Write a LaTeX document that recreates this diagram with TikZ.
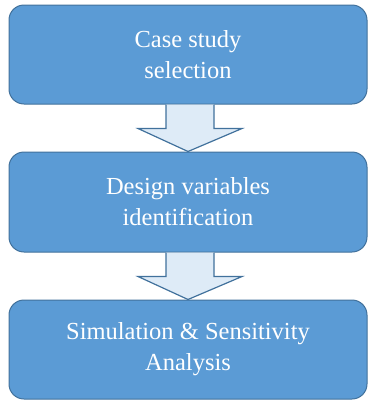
\documentclass[tikz,border=0pt]{standalone}
\usepackage{fontspec}
\setmainfont{Liberation Serif}
\newfontfamily\boxfont{Liberation Serif}
\usetikzlibrary{calc}
\definecolor{boxfill}{HTML}{5B9BD5}
\definecolor{boxline}{HTML}{41719C}
\definecolor{arrfill}{HTML}{DEEBF7}
\tikzset{
  stepbox/.style={draw=boxline, line width=1pt, fill=boxfill, rounded corners=15pt,
    minimum width=358pt, minimum height=99pt, align=center, text=white,
    font=\boxfont\fontsize{24.5}{31}\selectfont, inner sep=0pt},
  blockarrow/.style={draw=boxline, line width=1.2pt, fill=arrfill, line join=miter}
}
\begin{document}
\begin{tikzpicture}[x=1pt,y=-1pt]
\useasboundingbox (0,0) rectangle (368,400);
\node[stepbox] (b1) at (188,54.5) {Case study\\selection};
\node[stepbox, minimum height=100pt] (b2) at (188,202) {Design variables\\identification};
\node[stepbox] (b3) at (188,349.5) {Simulation \& Sensitivity\\Analysis};
\foreach \a/\b in {b1/b2, b2/b3}{
  \draw[blockarrow] ($(\a.south)+(-22,0)$) -- ($(\a.south)+(-22,24)$) -- ($(\a.south)+(-50,24)$)
    -- (\b.north) -- ($(\a.south)+(54,24)$) -- ($(\a.south)+(26,24)$) -- ($(\a.south)+(26,0)$);
}
\end{tikzpicture}
\end{document}
